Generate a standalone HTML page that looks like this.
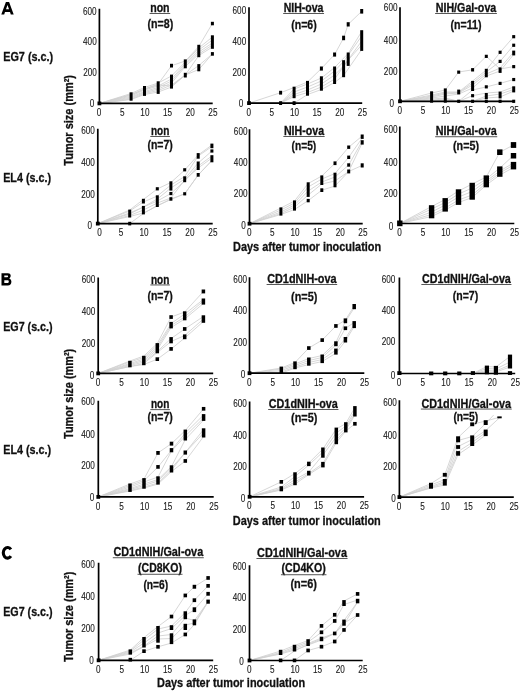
<!DOCTYPE html>
<html><head><meta charset="utf-8"><title>Tumor growth figure</title>
<style>
html,body{margin:0;padding:0;background:#fff;}
body{width:520px;height:692px;overflow:hidden;}
svg{display:block;filter:grayscale(1);}
text{font-family:"Liberation Sans",sans-serif;lengthAdjust:spacingAndGlyphs;}
.t{font-size:10.5px;fill:#1a1a1a;text-anchor:middle;stroke:#1a1a1a;stroke-width:0.12;}
.h{font-size:12.0px;font-weight:bold;fill:#111;text-anchor:middle;stroke:#111;stroke-width:0.3;}
.n{font-size:13.2px;font-weight:bold;fill:#111;text-anchor:middle;stroke:#111;stroke-width:0.3;}
.s{font-size:13px;font-weight:bold;fill:#111;stroke:#111;stroke-width:0.3;}
.Y{font-size:12px;font-weight:bold;fill:#111;stroke:#111;stroke-width:0.3;}
.X{font-size:13.2px;font-weight:bold;fill:#111;stroke:#111;stroke-width:0.3;}
.P{font-size:17px;font-weight:bold;fill:#000;}
</style></head>
<body>
<svg width="520" height="692" viewBox="0 0 520 692">
<rect width="520" height="692" fill="#fff"/>
<path fill-rule="evenodd" d="M1.3,14.6 L5.9,2.1 L9.1,2.1 L13.7,14.6 L10.8,14.6 L10,12 L5,12 L4.2,14.6 Z M6,9.3 L7.5,5.1 L9,9.3 Z"/>
<path fill-rule="evenodd" transform="translate(0 270)" d="M1.5,3.2 H7.8 C10.1,3.2 10.7,4.5 10.7,5.8 C10.7,7 10.1,7.9 9.2,8.5 C10.6,9 11.4,10.2 11.4,11.8 C11.4,13.9 10.1,15.5 7.8,15.5 H1.5 Z M4.3,5.4 H7.3 C7.9,5.4 8.1,5.9 8.1,6.3 C8.1,6.9 7.8,7.3 7.2,7.3 H4.3 Z M4.3,10.3 H7.7 C8.5,10.3 8.8,10.9 8.8,11.6 C8.8,12.5 8.4,13.1 7.7,13.1 H4.3 Z"/>
<path fill="none" stroke="#000" stroke-width="3.1" d="M10.9,549.4 A4.3,5.35 0 1 0 10.9,556.2"/>
<text class="s" x="3.2" y="60.8" lengthAdjust="spacingAndGlyphs" textLength="50">EG7 (s.c.)</text>
<text class="s" x="3.2" y="181.8" lengthAdjust="spacingAndGlyphs" textLength="47.8">EL4 (s.c.)</text>
<text class="s" x="3.2" y="330.8" lengthAdjust="spacingAndGlyphs" textLength="49.4">EG7 (s.c.)</text>
<text class="s" x="3.2" y="454.2" lengthAdjust="spacingAndGlyphs" textLength="48">EL4 (s.c.)</text>
<text class="s" x="3.2" y="616.3" lengthAdjust="spacingAndGlyphs" textLength="49.4">EG7 (s.c.)</text>
<text class="Y" transform="translate(73.4 165.7) rotate(-90)" x="0" y="0" lengthAdjust="spacingAndGlyphs" textLength="90.7">Tumor size (mm²)</text>
<text class="Y" transform="translate(73.2 438.9) rotate(-90)" x="0" y="0" lengthAdjust="spacingAndGlyphs" textLength="90.1">Tumor size (mm²)</text>
<text class="Y" transform="translate(73.4 662) rotate(-90)" x="0" y="0" lengthAdjust="spacingAndGlyphs" textLength="90.4">Tumor size (mm²)</text>
<text class="X" x="233" y="251.3" lengthAdjust="spacingAndGlyphs" textLength="148.2">Days after tumor inoculation</text>
<text class="X" x="232.8" y="525.3" lengthAdjust="spacingAndGlyphs" textLength="148">Days after tumor inoculation</text>
<text class="X" x="157.1" y="687.1" lengthAdjust="spacingAndGlyphs" textLength="148">Days after tumor inoculation</text>
<g>
<polyline points="99.4,103.4 131.1,95 144.5,89 158.2,84 171.5,65.7 185.3,61 198.8,46.5 212.4,23.5" fill="none" stroke="#d0d0d0" stroke-width="0.85"/>
<polyline points="99.4,103.4 131.1,93.5 144.5,87.5 158.2,83 171.5,76 185.3,62 198.8,48 212.4,37" fill="none" stroke="#d0d0d0" stroke-width="0.85"/>
<polyline points="99.4,103.4 131.1,96 144.5,90 158.2,86 171.5,79 185.3,63.5 198.8,50 212.4,40" fill="none" stroke="#d0d0d0" stroke-width="0.85"/>
<polyline points="99.4,103.4 131.1,97 144.5,91.5 158.2,87.5 171.5,81 185.3,65 198.8,52 212.4,43" fill="none" stroke="#d0d0d0" stroke-width="0.85"/>
<polyline points="99.4,103.4 131.1,98 144.5,92.5 158.2,89 171.5,83 185.3,66.5 198.8,54 212.4,45" fill="none" stroke="#d0d0d0" stroke-width="0.85"/>
<polyline points="99.4,103.4 131.1,99 144.5,93.5 158.2,90.5 171.5,85 185.3,75 198.8,55.5 212.4,47" fill="none" stroke="#d0d0d0" stroke-width="0.85"/>
<polyline points="99.4,103.4 131.1,99.5 144.5,94.5 158.2,92 171.5,87 185.3,75 198.8,65.5 212.4,53.9" fill="none" stroke="#d0d0d0" stroke-width="0.85"/>
<polyline points="99.4,103.4 131.1,94.5 144.5,89 158.2,85 171.5,86 185.3,75 198.8,69.5 212.4,53.9" fill="none" stroke="#d0d0d0" stroke-width="0.85"/>
<path d="M99.4 8.7V103.4H212.7" fill="none" stroke="#000" stroke-width="1.7"/>
<rect x="97.5" y="101.5" width="3.8" height="3.8"/>
<rect x="129.6" y="92.3" width="3" height="8.4"/>
<rect x="143" y="86" width="3" height="9.9"/>
<rect x="156.7" y="81.3" width="3" height="12.6"/>
<rect x="170" y="63.8" width="3" height="3.7"/>
<rect x="170" y="74.6" width="3" height="14"/>
<rect x="183.8" y="59.4" width="3" height="8.9"/>
<rect x="183.8" y="72.8" width="3" height="4.7"/>
<rect x="197.3" y="44.8" width="3" height="12.4"/>
<rect x="197.3" y="64.1" width="3" height="7.2"/>
<rect x="210.9" y="21.8" width="3" height="3.5"/>
<rect x="210.9" y="35.3" width="3" height="13.5"/>
<rect x="210.9" y="52.1" width="3" height="3.6"/>
<text class="t" x="99.1" y="116" lengthAdjust="spacingAndGlyphs" textLength="4.55">0</text>
<text class="t" x="122.26" y="116" lengthAdjust="spacingAndGlyphs" textLength="4.55">5</text>
<text class="t" x="144.92" y="116" lengthAdjust="spacingAndGlyphs" textLength="9.11">10</text>
<text class="t" x="167.58" y="116" lengthAdjust="spacingAndGlyphs" textLength="9.11">15</text>
<text class="t" x="190.24" y="116" lengthAdjust="spacingAndGlyphs" textLength="9.11">20</text>
<text class="t" x="212.9" y="116" lengthAdjust="spacingAndGlyphs" textLength="9.11">25</text>
<text class="t" x="89.8" y="14.55" lengthAdjust="spacingAndGlyphs" textLength="13.66">600</text>
<text class="t" x="89.9" y="45.35" lengthAdjust="spacingAndGlyphs" textLength="13.66">400</text>
<text class="t" x="90" y="76.05" lengthAdjust="spacingAndGlyphs" textLength="13.66">200</text>
<text class="t" x="91.9" y="106.65" lengthAdjust="spacingAndGlyphs" textLength="4.55">0</text>
<text class="h" x="159.9" y="11.6" lengthAdjust="spacingAndGlyphs" textLength="19.4">non</text>
<rect x="149.6" y="13.1" width="20.6" height="0.9" fill="#444"/>
<text class="n" x="160.4" y="28.22" lengthAdjust="spacingAndGlyphs" textLength="25.7">(n=8)</text>
</g>
<g>
<polyline points="249,103.1 280.6,92.7 294.1,87.5 307.5,82 321.4,68.5 334.6,54.5 343.6,38 348.2,24.3 361.7,11.3" fill="none" stroke="#d0d0d0" stroke-width="0.85"/>
<polyline points="249,103.1 280.6,103.1 294.1,89 307.5,84 321.4,78 334.6,67.5 348.2,53.5 361.7,31.5" fill="none" stroke="#d0d0d0" stroke-width="0.85"/>
<polyline points="249,103.1 280.6,103.1 294.1,92 307.5,87 321.4,81 334.6,71 343.6,61.5 361.7,36" fill="none" stroke="#d0d0d0" stroke-width="0.85"/>
<polyline points="249,103.1 280.6,103.1 294.1,94.5 307.5,90 321.4,84 334.6,75 343.6,66 361.7,41" fill="none" stroke="#d0d0d0" stroke-width="0.85"/>
<polyline points="249,103.1 280.6,103.1 294.1,96.5 307.5,92.5 321.4,87 334.6,79 348.2,60 361.7,45" fill="none" stroke="#d0d0d0" stroke-width="0.85"/>
<polyline points="249,103.1 280.6,103.1 294.1,103.1 307.5,94.5 321.4,89.5 334.6,82.5 343.6,75.5 361.7,49.5" fill="none" stroke="#d0d0d0" stroke-width="0.85"/>
<path d="M249 7.2V103.1H362.2" fill="none" stroke="#000" stroke-width="1.7"/>
<rect x="247.1" y="101.2" width="3.8" height="3.8"/>
<rect x="279.1" y="90.8" width="3" height="3.8"/>
<rect x="279.1" y="101.2" width="3" height="3.8"/>
<rect x="292.6" y="86.7" width="3" height="11.5"/>
<rect x="292.6" y="101.2" width="3" height="3.8"/>
<rect x="306" y="80.9" width="3" height="14.8"/>
<rect x="319.9" y="66.5" width="3" height="4.1"/>
<rect x="319.9" y="76.3" width="3" height="14.4"/>
<rect x="333.1" y="52.5" width="3" height="4.1"/>
<rect x="333.1" y="66.5" width="3" height="17.5"/>
<rect x="342.1" y="35.7" width="3" height="4.5"/>
<rect x="342.1" y="60.2" width="3" height="17"/>
<rect x="346.7" y="22.2" width="3" height="4.3"/>
<rect x="346.7" y="52.5" width="3" height="13.4"/>
<rect x="360.2" y="9" width="3" height="4.6"/>
<rect x="360.2" y="30.2" width="3" height="20.7"/>
<text class="t" x="248.7" y="115.7" lengthAdjust="spacingAndGlyphs" textLength="4.55">0</text>
<text class="t" x="271.84" y="115.7" lengthAdjust="spacingAndGlyphs" textLength="4.55">5</text>
<text class="t" x="294.48" y="115.7" lengthAdjust="spacingAndGlyphs" textLength="9.11">10</text>
<text class="t" x="317.12" y="115.7" lengthAdjust="spacingAndGlyphs" textLength="9.11">15</text>
<text class="t" x="339.76" y="115.7" lengthAdjust="spacingAndGlyphs" textLength="9.11">20</text>
<text class="t" x="362.4" y="115.7" lengthAdjust="spacingAndGlyphs" textLength="9.11">25</text>
<text class="t" x="239.4" y="14.45" lengthAdjust="spacingAndGlyphs" textLength="13.66">600</text>
<text class="t" x="239.4" y="44.75" lengthAdjust="spacingAndGlyphs" textLength="13.66">400</text>
<text class="t" x="239.4" y="75.95" lengthAdjust="spacingAndGlyphs" textLength="13.66">200</text>
<text class="t" x="241.1" y="106.55" lengthAdjust="spacingAndGlyphs" textLength="4.55">0</text>
<text class="h" x="303.6" y="11.6" lengthAdjust="spacingAndGlyphs" textLength="39.7">NIH-ova</text>
<rect x="283.15" y="13" width="40.9" height="0.9" fill="#444"/>
<text class="n" x="304" y="28.82" lengthAdjust="spacingAndGlyphs" textLength="25.6">(n=6)</text>
</g>
<g>
<polyline points="400,101.3 431.6,93 445.3,90 458.7,72 472.6,69.8 486.3,56.3 500.1,69 513.7,66.6" fill="none" stroke="#d0d0d0" stroke-width="0.85"/>
<polyline points="400,101.3 431.6,95 445.3,92 458.7,92 472.6,81 486.3,70 500.1,52.3 513.7,36.7" fill="none" stroke="#d0d0d0" stroke-width="0.85"/>
<polyline points="400,101.3 431.6,96 445.3,93 458.7,92.5 472.6,83 486.3,72 500.1,61.4 513.7,45.2" fill="none" stroke="#d0d0d0" stroke-width="0.85"/>
<polyline points="400,101.3 431.6,97 445.3,94 458.7,93 472.6,85 486.3,74 500.1,68 513.7,52" fill="none" stroke="#d0d0d0" stroke-width="0.85"/>
<polyline points="400,101.3 431.6,98 445.3,96 458.7,94 472.6,88 486.3,76 500.1,71 513.7,54.5" fill="none" stroke="#d0d0d0" stroke-width="0.85"/>
<polyline points="400,101.3 431.6,99 445.3,98 458.7,101.3 472.6,90 486.3,86.9 500.1,83.4 513.7,79.5" fill="none" stroke="#d0d0d0" stroke-width="0.85"/>
<polyline points="400,101.3 431.6,100 445.3,99 458.7,101.3 472.6,95.7 486.3,93 500.1,92 513.7,87" fill="none" stroke="#d0d0d0" stroke-width="0.85"/>
<polyline points="400,101.3 431.6,101.3 445.3,100 458.7,101.3 472.6,101.3 486.3,96 500.1,94 513.7,89.5" fill="none" stroke="#d0d0d0" stroke-width="0.85"/>
<polyline points="400,101.3 431.6,101.3 445.3,101.3 458.7,101.3 472.6,101.3 486.3,98 500.1,97 513.7,91" fill="none" stroke="#d0d0d0" stroke-width="0.85"/>
<polyline points="400,101.3 431.6,101.3 445.3,101.3 458.7,101.3 472.6,101.3 486.3,101.3 500.1,101.3 513.7,101.3" fill="none" stroke="#d0d0d0" stroke-width="0.85"/>
<polyline points="400,101.3 431.6,101.3 445.3,101.3 458.7,101.3 472.6,101.3 486.3,101.3 500.1,101.3 513.7,101.3" fill="none" stroke="#d0d0d0" stroke-width="0.85"/>
<path d="M400 7.3V101.3H514" fill="none" stroke="#000" stroke-width="1.7"/>
<rect x="398.1" y="99.4" width="3.8" height="3.8"/>
<rect x="430.1" y="91.3" width="3" height="11.4"/>
<rect x="443.8" y="88.4" width="3" height="14.3"/>
<rect x="457.2" y="70.55" width="3" height="3.2"/>
<rect x="457.2" y="89.6" width="3" height="4.8"/>
<rect x="457.2" y="99.7" width="3" height="3.2"/>
<rect x="471.1" y="68.1" width="3" height="3.4"/>
<rect x="471.1" y="80.9" width="3" height="10.1"/>
<rect x="471.1" y="94.1" width="3" height="3.2"/>
<rect x="471.1" y="99.7" width="3" height="3.2"/>
<rect x="484.8" y="54.75" width="3" height="3.2"/>
<rect x="484.8" y="68.8" width="3" height="8.5"/>
<rect x="484.8" y="85.25" width="3" height="3.2"/>
<rect x="484.8" y="93" width="3" height="6.1"/>
<rect x="484.8" y="99.7" width="3" height="3.2"/>
<rect x="498.6" y="50.7" width="3" height="3.2"/>
<rect x="498.6" y="59.8" width="3" height="3.2"/>
<rect x="498.6" y="67.4" width="3" height="5.5"/>
<rect x="498.6" y="81.8" width="3" height="3.2"/>
<rect x="498.6" y="91.6" width="3" height="6.8"/>
<rect x="498.6" y="99.7" width="3" height="3.2"/>
<rect x="512.2" y="35.1" width="3" height="3.2"/>
<rect x="512.2" y="43.65" width="3" height="3.2"/>
<rect x="512.2" y="50.6" width="3" height="4.8"/>
<rect x="512.2" y="65.05" width="3" height="3.2"/>
<rect x="512.2" y="77.95" width="3" height="3.2"/>
<rect x="512.2" y="86.3" width="3" height="6.1"/>
<rect x="512.2" y="99.7" width="3" height="3.2"/>
<text class="t" x="399.7" y="113.9" lengthAdjust="spacingAndGlyphs" textLength="4.55">0</text>
<text class="t" x="423" y="113.9" lengthAdjust="spacingAndGlyphs" textLength="4.55">5</text>
<text class="t" x="445.8" y="113.9" lengthAdjust="spacingAndGlyphs" textLength="9.11">10</text>
<text class="t" x="468.6" y="113.9" lengthAdjust="spacingAndGlyphs" textLength="9.11">15</text>
<text class="t" x="491.4" y="113.9" lengthAdjust="spacingAndGlyphs" textLength="9.11">20</text>
<text class="t" x="514.2" y="113.9" lengthAdjust="spacingAndGlyphs" textLength="9.11">25</text>
<text class="t" x="390.7" y="11.45" lengthAdjust="spacingAndGlyphs" textLength="13.66">600</text>
<text class="t" x="390.7" y="43.95" lengthAdjust="spacingAndGlyphs" textLength="13.66">400</text>
<text class="t" x="390.7" y="75.35" lengthAdjust="spacingAndGlyphs" textLength="13.66">200</text>
<text class="t" x="391.8" y="107.35" lengthAdjust="spacingAndGlyphs" textLength="4.55">0</text>
<text class="h" x="466" y="11.6" lengthAdjust="spacingAndGlyphs" textLength="60.6">NIH/Gal-ova</text>
<rect x="435.1" y="13" width="61.8" height="0.9" fill="#444"/>
<text class="n" x="466" y="28.82" lengthAdjust="spacingAndGlyphs" textLength="31">(n=11)</text>
</g>
<g>
<polyline points="97.8,223.6 129.7,210 143.4,199.5 157.3,188.9 170.9,182.5 184.7,170 198.2,155 211.9,145" fill="none" stroke="#d0d0d0" stroke-width="0.85"/>
<polyline points="97.8,223.6 129.7,211 143.4,202 157.3,196 170.9,185 184.7,176.5 198.2,156 211.9,146.5" fill="none" stroke="#d0d0d0" stroke-width="0.85"/>
<polyline points="97.8,223.6 129.7,213 143.4,207 157.3,199 170.9,188 184.7,179 198.2,163 211.9,151" fill="none" stroke="#d0d0d0" stroke-width="0.85"/>
<polyline points="97.8,223.6 129.7,214 143.4,207 157.3,201 170.9,193.5 184.7,181 198.2,166 211.9,156" fill="none" stroke="#d0d0d0" stroke-width="0.85"/>
<polyline points="97.8,223.6 129.7,215.5 143.4,210 157.3,203 170.9,198 184.7,180 198.2,168 211.9,158" fill="none" stroke="#d0d0d0" stroke-width="0.85"/>
<polyline points="97.8,223.6 129.7,216.5 143.4,213 157.3,206 170.9,199 184.7,193.8 198.2,175 211.9,160.5" fill="none" stroke="#d0d0d0" stroke-width="0.85"/>
<polyline points="97.8,223.6 129.7,223.6 143.4,213.5 157.3,205.5 170.9,199.5 184.7,193.8 198.2,175 211.9,160.5" fill="none" stroke="#d0d0d0" stroke-width="0.85"/>
<path d="M97.8 128.8V223.6H212.7" fill="none" stroke="#000" stroke-width="1.7"/>
<rect x="95.9" y="221.7" width="3.8" height="3.8"/>
<rect x="128.2" y="209.6" width="3" height="7.9"/>
<rect x="128.2" y="221.8" width="3" height="3.6"/>
<rect x="141.9" y="198.8" width="3" height="4.7"/>
<rect x="141.9" y="205.9" width="3" height="8.5"/>
<rect x="155.8" y="187.2" width="3" height="3.2"/>
<rect x="155.8" y="195.3" width="3" height="11.7"/>
<rect x="169.4" y="181.3" width="3" height="9.3"/>
<rect x="169.4" y="191.95" width="3" height="3.2"/>
<rect x="169.4" y="197.2" width="3" height="3.5"/>
<rect x="183.2" y="168.2" width="3" height="3.2"/>
<rect x="183.2" y="176.3" width="3" height="5.9"/>
<rect x="183.2" y="192.2" width="3" height="3.2"/>
<rect x="196.7" y="153.1" width="3" height="5.6"/>
<rect x="196.7" y="161.5" width="3" height="8.5"/>
<rect x="196.7" y="173" width="3" height="3.7"/>
<rect x="210.4" y="143.6" width="3" height="4.6"/>
<rect x="210.4" y="149.4" width="3" height="3.2"/>
<rect x="210.4" y="155.2" width="3" height="7.1"/>
<text class="t" x="99.6" y="236.2" lengthAdjust="spacingAndGlyphs" textLength="4.55">0</text>
<text class="t" x="120.98" y="236.2" lengthAdjust="spacingAndGlyphs" textLength="4.55">5</text>
<text class="t" x="143.96" y="236.2" lengthAdjust="spacingAndGlyphs" textLength="9.11">10</text>
<text class="t" x="166.94" y="236.2" lengthAdjust="spacingAndGlyphs" textLength="9.11">15</text>
<text class="t" x="189.92" y="236.2" lengthAdjust="spacingAndGlyphs" textLength="9.11">20</text>
<text class="t" x="212.9" y="236.2" lengthAdjust="spacingAndGlyphs" textLength="9.11">25</text>
<text class="t" x="88.1" y="134.45" lengthAdjust="spacingAndGlyphs" textLength="13.66">600</text>
<text class="t" x="88.1" y="166.35" lengthAdjust="spacingAndGlyphs" textLength="13.66">400</text>
<text class="t" x="88.1" y="197.55" lengthAdjust="spacingAndGlyphs" textLength="13.66">200</text>
<text class="t" x="89.8" y="229.25" lengthAdjust="spacingAndGlyphs" textLength="4.55">0</text>
<text class="h" x="160.1" y="134.8" lengthAdjust="spacingAndGlyphs" textLength="18.4">non</text>
<rect x="150.3" y="136" width="19.6" height="0.9" fill="#444"/>
<text class="n" x="160.1" y="149.47" lengthAdjust="spacingAndGlyphs" textLength="25.4">(n=7)</text>
</g>
<g>
<polyline points="249.5,223.7 280.9,208 294.5,201 308.2,183.5 321.8,176 335,163.3 348.7,147.2 362.2,136" fill="none" stroke="#d0d0d0" stroke-width="0.85"/>
<polyline points="249.5,223.7 280.9,210 294.5,203 308.2,187 321.8,179 335,173.5 348.7,157.3 362.2,138" fill="none" stroke="#d0d0d0" stroke-width="0.85"/>
<polyline points="249.5,223.7 280.9,212 294.5,205 308.2,191 321.8,182 335,177 348.7,165 362.2,141" fill="none" stroke="#d0d0d0" stroke-width="0.85"/>
<polyline points="249.5,223.7 280.9,213.5 294.5,207 308.2,195 321.8,184 335,181 348.7,171.5 362.2,143" fill="none" stroke="#d0d0d0" stroke-width="0.85"/>
<polyline points="249.5,223.7 280.9,214.5 294.5,209.5 308.2,200.6 321.8,190.2 335,186 348.7,171.5 362.2,165.4" fill="none" stroke="#d0d0d0" stroke-width="0.85"/>
<path d="M249.5 129.2V223.7H362.7" fill="none" stroke="#000" stroke-width="1.7"/>
<rect x="247.6" y="221.8" width="3.8" height="3.8"/>
<rect x="279.4" y="207.4" width="3" height="8.2"/>
<rect x="293" y="200.4" width="3" height="10.2"/>
<rect x="306.7" y="182.3" width="3" height="14.6"/>
<rect x="306.7" y="198.9" width="3" height="3.4"/>
<rect x="320.3" y="175.4" width="3" height="9.6"/>
<rect x="320.3" y="188.3" width="3" height="3.7"/>
<rect x="333.5" y="161.4" width="3" height="3.7"/>
<rect x="333.5" y="172.7" width="3" height="14.6"/>
<rect x="347.2" y="145.5" width="3" height="3.4"/>
<rect x="347.2" y="155.6" width="3" height="3.4"/>
<rect x="347.2" y="163.3" width="3" height="3.4"/>
<rect x="347.2" y="169.5" width="3" height="3.9"/>
<rect x="360.7" y="134.5" width="3" height="4.4"/>
<rect x="360.7" y="140.2" width="3" height="4.4"/>
<rect x="360.7" y="163.3" width="3" height="4.2"/>
<text class="t" x="249.2" y="236.3" lengthAdjust="spacingAndGlyphs" textLength="4.55">0</text>
<text class="t" x="272.34" y="236.3" lengthAdjust="spacingAndGlyphs" textLength="4.55">5</text>
<text class="t" x="294.98" y="236.3" lengthAdjust="spacingAndGlyphs" textLength="9.11">10</text>
<text class="t" x="317.62" y="236.3" lengthAdjust="spacingAndGlyphs" textLength="9.11">15</text>
<text class="t" x="340.26" y="236.3" lengthAdjust="spacingAndGlyphs" textLength="9.11">20</text>
<text class="t" x="362.9" y="236.3" lengthAdjust="spacingAndGlyphs" textLength="9.11">25</text>
<text class="t" x="240.7" y="135.25" lengthAdjust="spacingAndGlyphs" textLength="13.66">600</text>
<text class="t" x="240.7" y="166.35" lengthAdjust="spacingAndGlyphs" textLength="13.66">400</text>
<text class="t" x="240.7" y="197.35" lengthAdjust="spacingAndGlyphs" textLength="13.66">200</text>
<text class="t" x="243.5" y="229.05" lengthAdjust="spacingAndGlyphs" textLength="4.55">0</text>
<text class="h" x="304" y="134.8" lengthAdjust="spacingAndGlyphs" textLength="40.1">NIH-ova</text>
<rect x="283.35" y="136" width="41.3" height="0.9" fill="#444"/>
<text class="n" x="303.9" y="149.77" lengthAdjust="spacingAndGlyphs" textLength="24.7">(n=5)</text>
</g>
<g>
<polyline points="399.8,223.5 431.6,206.5 445.2,199.5 458.5,191 472.2,184 486.3,177 499.8,152.2 513.5,145" fill="none" stroke="#d0d0d0" stroke-width="0.85"/>
<polyline points="399.8,223.5 431.6,209 445.2,202.5 458.5,194 472.2,188 486.3,179 499.8,168 513.5,155.5" fill="none" stroke="#d0d0d0" stroke-width="0.85"/>
<polyline points="399.8,223.5 431.6,212 445.2,205 458.5,197 472.2,191.5 486.3,181 499.8,171 513.5,163" fill="none" stroke="#d0d0d0" stroke-width="0.85"/>
<polyline points="399.8,223.5 431.6,214.5 445.2,208 458.5,200 472.2,195 486.3,183 499.8,173 513.5,165" fill="none" stroke="#d0d0d0" stroke-width="0.85"/>
<polyline points="399.8,223.5 431.6,216.5 445.2,210 458.5,202.5 472.2,197.5 486.3,185 499.8,175 513.5,167.5" fill="none" stroke="#d0d0d0" stroke-width="0.85"/>
<path d="M399.8 126.4V223.5H514.3" fill="none" stroke="#000" stroke-width="1.7"/>
<rect x="397.1" y="220.5" width="5.4" height="5.7"/>
<rect x="428.9" y="205.2" width="5.4" height="13.1"/>
<rect x="442.5" y="198.1" width="5.4" height="13.5"/>
<rect x="455.8" y="189.3" width="5.4" height="15.6"/>
<rect x="469.5" y="182.8" width="5.4" height="16.9"/>
<rect x="483.6" y="175.4" width="5.4" height="11.9"/>
<rect x="497.1" y="149.4" width="5.4" height="5.6"/>
<rect x="497.1" y="166.4" width="5.4" height="10.4"/>
<rect x="510.8" y="142.1" width="5.4" height="5.8"/>
<rect x="510.8" y="153" width="5.4" height="5.5"/>
<rect x="510.8" y="161.9" width="5.4" height="7.5"/>
<text class="t" x="399.5" y="236.1" lengthAdjust="spacingAndGlyphs" textLength="4.55">0</text>
<text class="t" x="422.9" y="236.1" lengthAdjust="spacingAndGlyphs" textLength="4.55">5</text>
<text class="t" x="445.8" y="236.1" lengthAdjust="spacingAndGlyphs" textLength="9.11">10</text>
<text class="t" x="468.7" y="236.1" lengthAdjust="spacingAndGlyphs" textLength="9.11">15</text>
<text class="t" x="491.6" y="236.1" lengthAdjust="spacingAndGlyphs" textLength="9.11">20</text>
<text class="t" x="514.5" y="236.1" lengthAdjust="spacingAndGlyphs" textLength="9.11">25</text>
<text class="t" x="390.7" y="132.55" lengthAdjust="spacingAndGlyphs" textLength="13.66">600</text>
<text class="t" x="390.7" y="165.55" lengthAdjust="spacingAndGlyphs" textLength="13.66">400</text>
<text class="t" x="390.7" y="197.35" lengthAdjust="spacingAndGlyphs" textLength="13.66">200</text>
<text class="t" x="391.1" y="229.85" lengthAdjust="spacingAndGlyphs" textLength="4.55">0</text>
<text class="h" x="466.2" y="134.8" lengthAdjust="spacingAndGlyphs" textLength="60.9">NIH/Gal-ova</text>
<rect x="435.15" y="136.3" width="62.1" height="0.9" fill="#444"/>
<text class="n" x="466" y="149.87" lengthAdjust="spacingAndGlyphs" textLength="25.9">(n=5)</text>
</g>
<g>
<polyline points="98.2,373.4 129.9,361 143.8,356 157.3,343.5 171.1,317 184.7,312 203.4,291.5" fill="none" stroke="#d0d0d0" stroke-width="0.85"/>
<polyline points="98.2,373.4 129.9,362 143.8,357.5 157.3,345.5 171.1,323.5 184.7,314 203.4,299.5" fill="none" stroke="#d0d0d0" stroke-width="0.85"/>
<polyline points="98.2,373.4 129.9,363.5 143.8,359 157.3,347.5 171.1,325.5 184.7,317 203.4,301" fill="none" stroke="#d0d0d0" stroke-width="0.85"/>
<polyline points="98.2,373.4 129.9,364.5 143.8,360.5 157.3,349.5 171.1,327.5 184.7,319 203.4,303.5" fill="none" stroke="#d0d0d0" stroke-width="0.85"/>
<polyline points="98.2,373.4 129.9,365.5 143.8,362 157.3,351.5 171.1,338.5 184.7,329 203.4,316.5" fill="none" stroke="#d0d0d0" stroke-width="0.85"/>
<polyline points="98.2,373.4 129.9,366.5 143.8,363.5 157.3,352.5 171.1,341.5 184.7,335.5 203.4,319" fill="none" stroke="#d0d0d0" stroke-width="0.85"/>
<polyline points="98.2,373.4 129.9,366.5 143.8,364.5 157.3,359.2 171.1,349 184.7,338 203.4,321.5" fill="none" stroke="#d0d0d0" stroke-width="0.85"/>
<path d="M98.2 277.5V373.4H213.2" fill="none" stroke="#000" stroke-width="1.7"/>
<rect x="96.3" y="371.5" width="3.8" height="3.8"/>
<rect x="128.15" y="360.8" width="3.5" height="6.5"/>
<rect x="142.05" y="355.8" width="3.5" height="9.4"/>
<rect x="155.55" y="343.1" width="3.5" height="10.2"/>
<rect x="155.55" y="357.3" width="3.5" height="3.7"/>
<rect x="169.35" y="315.2" width="3.5" height="3.7"/>
<rect x="169.35" y="321.9" width="3.5" height="6.5"/>
<rect x="169.35" y="337.1" width="3.5" height="6.2"/>
<rect x="169.35" y="347.05" width="3.5" height="3.7"/>
<rect x="182.95" y="311.3" width="3.5" height="9"/>
<rect x="182.95" y="327.1" width="3.5" height="3.7"/>
<rect x="182.95" y="334.4" width="3.5" height="4.8"/>
<rect x="201.65" y="289.5" width="3.5" height="3.9"/>
<rect x="201.65" y="298.5" width="3.5" height="6.1"/>
<rect x="201.65" y="315.3" width="3.5" height="7.5"/>
<text class="t" x="97.9" y="386" lengthAdjust="spacingAndGlyphs" textLength="4.55">0</text>
<text class="t" x="121.4" y="386" lengthAdjust="spacingAndGlyphs" textLength="4.55">5</text>
<text class="t" x="144.4" y="386" lengthAdjust="spacingAndGlyphs" textLength="9.11">10</text>
<text class="t" x="167.4" y="386" lengthAdjust="spacingAndGlyphs" textLength="9.11">15</text>
<text class="t" x="190.4" y="386" lengthAdjust="spacingAndGlyphs" textLength="9.11">20</text>
<text class="t" x="213.4" y="386" lengthAdjust="spacingAndGlyphs" textLength="9.11">25</text>
<text class="t" x="88.6" y="283.15" lengthAdjust="spacingAndGlyphs" textLength="13.66">600</text>
<text class="t" x="88.6" y="315.15" lengthAdjust="spacingAndGlyphs" textLength="13.66">400</text>
<text class="t" x="88.6" y="346.95" lengthAdjust="spacingAndGlyphs" textLength="13.66">200</text>
<text class="t" x="91.9" y="378.85" lengthAdjust="spacingAndGlyphs" textLength="4.55">0</text>
<text class="h" x="160.1" y="283.6" lengthAdjust="spacingAndGlyphs" textLength="18.4">non</text>
<rect x="150.3" y="284.5" width="19.6" height="0.9" fill="#444"/>
<text class="n" x="160.1" y="300.07" lengthAdjust="spacingAndGlyphs" textLength="25.4">(n=7)</text>
</g>
<g>
<polyline points="249.5,373.2 281.3,368 295,362.5 308.8,348 322.2,340.1 335.9,326 345.4,320 354.2,306" fill="none" stroke="#d0d0d0" stroke-width="0.85"/>
<polyline points="249.5,373.2 281.3,369 295,364 308.8,358.5 322.2,355.5 335.9,342.5 345.4,321.5 354.2,308" fill="none" stroke="#d0d0d0" stroke-width="0.85"/>
<polyline points="249.5,373.2 281.3,370.5 295,365.5 308.8,360.5 322.2,357.5 335.9,345 345.4,328.3 354.2,322.5" fill="none" stroke="#d0d0d0" stroke-width="0.85"/>
<polyline points="249.5,373.2 281.3,372 295,367 308.8,362.5 322.2,359.5 335.9,350 345.4,338.5 354.2,324.5" fill="none" stroke="#d0d0d0" stroke-width="0.85"/>
<polyline points="249.5,373.2 281.3,373.2 295,368 308.8,364.5 322.2,361.5 335.9,353.2 345.4,341 354.2,326.5" fill="none" stroke="#d0d0d0" stroke-width="0.85"/>
<path d="M249.5 277.3V373.2H364.3" fill="none" stroke="#000" stroke-width="1.7"/>
<rect x="247.6" y="371.3" width="3.8" height="3.8"/>
<rect x="279.55" y="366.6" width="3.5" height="7.4"/>
<rect x="293.25" y="361.4" width="3.5" height="7.8"/>
<rect x="307.05" y="346.2" width="3.5" height="3.7"/>
<rect x="307.05" y="357.5" width="3.5" height="8.2"/>
<rect x="320.45" y="338.25" width="3.5" height="3.7"/>
<rect x="320.45" y="354.5" width="3.5" height="8.6"/>
<rect x="334.15" y="324.1" width="3.5" height="3.7"/>
<rect x="334.15" y="341.3" width="3.5" height="4.9"/>
<rect x="334.15" y="348.6" width="3.5" height="6"/>
<rect x="343.65" y="318.4" width="3.5" height="4.8"/>
<rect x="343.65" y="326.4" width="3.5" height="3.7"/>
<rect x="343.65" y="337" width="3.5" height="5.5"/>
<rect x="352.45" y="304" width="3.5" height="5.2"/>
<rect x="352.45" y="321.1" width="3.5" height="7"/>
<text class="t" x="249.2" y="385.8" lengthAdjust="spacingAndGlyphs" textLength="4.55">0</text>
<text class="t" x="272.66" y="385.8" lengthAdjust="spacingAndGlyphs" textLength="4.55">5</text>
<text class="t" x="295.62" y="385.8" lengthAdjust="spacingAndGlyphs" textLength="9.11">10</text>
<text class="t" x="318.58" y="385.8" lengthAdjust="spacingAndGlyphs" textLength="9.11">15</text>
<text class="t" x="341.54" y="385.8" lengthAdjust="spacingAndGlyphs" textLength="9.11">20</text>
<text class="t" x="364.5" y="385.8" lengthAdjust="spacingAndGlyphs" textLength="9.11">25</text>
<text class="t" x="240.2" y="282.55" lengthAdjust="spacingAndGlyphs" textLength="13.66">600</text>
<text class="t" x="240.2" y="313.75" lengthAdjust="spacingAndGlyphs" textLength="13.66">400</text>
<text class="t" x="240.2" y="346.05" lengthAdjust="spacingAndGlyphs" textLength="13.66">200</text>
<text class="t" x="243.1" y="377.95" lengthAdjust="spacingAndGlyphs" textLength="4.55">0</text>
<text class="h" x="301.9" y="282.5" lengthAdjust="spacingAndGlyphs" textLength="69.4">CD1dNIH-ova</text>
<rect x="266.6" y="284" width="70.6" height="0.9" fill="#444"/>
<text class="n" x="304.2" y="300.62" lengthAdjust="spacingAndGlyphs" textLength="26.3">(n=5)</text>
</g>
<g>
<polyline points="399.4,373.5 431.2,373.5 445.2,373.5 459.3,373.5 472.9,373.5 486.9,366.5 495.9,367 510,356.4" fill="none" stroke="#d0d0d0" stroke-width="0.85"/>
<polyline points="399.4,373.5 431.2,373.5 445.2,373.5 459.3,373.5 472.9,373.5 486.9,368.5 495.9,369 510,362" fill="none" stroke="#d0d0d0" stroke-width="0.85"/>
<polyline points="399.4,373.5 431.2,373.5 445.2,373.5 459.3,373.5 472.9,373.5 486.9,370.5 495.9,371 510,365" fill="none" stroke="#d0d0d0" stroke-width="0.85"/>
<polyline points="399.4,373.5 431.2,373.5 445.2,373.5 459.3,373.5 472.9,373.5 486.9,372 495.9,372 510,367" fill="none" stroke="#d0d0d0" stroke-width="0.85"/>
<polyline points="399.4,373.5 431.2,373.5 445.2,373.5 459.3,373.5 472.9,373.5 486.9,373.5 495.9,373.5 510,373.5" fill="none" stroke="#d0d0d0" stroke-width="0.85"/>
<path d="M399.4 277.5V373.5H515.2" fill="none" stroke="#000" stroke-width="1.7"/>
<rect x="397.3" y="371.2" width="4.2" height="3.8"/>
<rect x="429.1" y="371.5" width="4.2" height="3.8"/>
<rect x="443.1" y="371.5" width="4.2" height="3.8"/>
<rect x="457.2" y="371.5" width="4.2" height="3.8"/>
<rect x="470.8" y="371.15" width="4.2" height="3.8"/>
<rect x="484.8" y="365.6" width="4.2" height="8.7"/>
<rect x="493.8" y="365.9" width="4.2" height="8.8"/>
<rect x="507.9" y="354.6" width="4.2" height="13.9"/>
<rect x="507.9" y="371.15" width="4.2" height="3.8"/>
<text class="t" x="399.1" y="386.1" lengthAdjust="spacingAndGlyphs" textLength="4.55">0</text>
<text class="t" x="422.76" y="386.1" lengthAdjust="spacingAndGlyphs" textLength="4.55">5</text>
<text class="t" x="445.92" y="386.1" lengthAdjust="spacingAndGlyphs" textLength="9.11">10</text>
<text class="t" x="469.08" y="386.1" lengthAdjust="spacingAndGlyphs" textLength="9.11">15</text>
<text class="t" x="492.24" y="386.1" lengthAdjust="spacingAndGlyphs" textLength="9.11">20</text>
<text class="t" x="515.4" y="386.1" lengthAdjust="spacingAndGlyphs" textLength="9.11">25</text>
<text class="t" x="388.6" y="282.55" lengthAdjust="spacingAndGlyphs" textLength="13.66">600</text>
<text class="t" x="388.6" y="313.75" lengthAdjust="spacingAndGlyphs" textLength="13.66">400</text>
<text class="t" x="388.6" y="345.25" lengthAdjust="spacingAndGlyphs" textLength="13.66">200</text>
<text class="t" x="392.9" y="378.55" lengthAdjust="spacingAndGlyphs" textLength="4.55">0</text>
<text class="h" x="466.4" y="282.9" lengthAdjust="spacingAndGlyphs" textLength="88.9">CD1dNIH/Gal-ova</text>
<rect x="421.35" y="284" width="90.1" height="0.9" fill="#444"/>
<text class="n" x="465.5" y="300.42" lengthAdjust="spacingAndGlyphs" textLength="25.4">(n=7)</text>
</g>
<g>
<polyline points="98.3,496.9 130,484 144,479 158,452.9 171.5,443.6 185.3,430.5 203.6,408.8" fill="none" stroke="#d0d0d0" stroke-width="0.85"/>
<polyline points="98.3,496.9 130,485.5 144,480.5 158,467 171.5,450.2 185.3,433 203.6,415" fill="none" stroke="#d0d0d0" stroke-width="0.85"/>
<polyline points="98.3,496.9 130,487 144,482 158,477 171.5,451 185.3,436 203.6,418" fill="none" stroke="#d0d0d0" stroke-width="0.85"/>
<polyline points="98.3,496.9 130,488.5 144,484 158,479.5 171.5,466.5 185.3,439.5 203.6,420" fill="none" stroke="#d0d0d0" stroke-width="0.85"/>
<polyline points="98.3,496.9 130,489.5 144,485.5 158,481 171.5,468 185.3,452.5 203.6,429.5" fill="none" stroke="#d0d0d0" stroke-width="0.85"/>
<polyline points="98.3,496.9 130,490.5 144,487 158,483 171.5,470 185.3,452.5 203.6,433" fill="none" stroke="#d0d0d0" stroke-width="0.85"/>
<polyline points="98.3,496.9 130,491 144,488 158,484 171.5,471.5 185.3,461 203.6,436.5" fill="none" stroke="#d0d0d0" stroke-width="0.85"/>
<path d="M98.3 400.8V496.9H213.7" fill="none" stroke="#000" stroke-width="1.7"/>
<rect x="96.4" y="495" width="3.8" height="3.8"/>
<rect x="128.25" y="483.5" width="3.5" height="8.4"/>
<rect x="142.25" y="478.1" width="3.5" height="10.6"/>
<rect x="156.25" y="451" width="3.5" height="3.8"/>
<rect x="156.25" y="465.05" width="3.5" height="3.7"/>
<rect x="156.25" y="476.3" width="3.5" height="8.3"/>
<rect x="169.75" y="441.7" width="3.5" height="3.9"/>
<rect x="169.75" y="448.1" width="3.5" height="4.2"/>
<rect x="169.75" y="465.3" width="3.5" height="7.2"/>
<rect x="183.55" y="429.6" width="3.5" height="10.9"/>
<rect x="183.55" y="450.5" width="3.5" height="4.1"/>
<rect x="183.55" y="459.1" width="3.5" height="3.7"/>
<rect x="201.85" y="406.95" width="3.5" height="3.7"/>
<rect x="201.85" y="414.1" width="3.5" height="6.8"/>
<rect x="201.85" y="428.3" width="3.5" height="9.2"/>
<text class="t" x="98" y="509.5" lengthAdjust="spacingAndGlyphs" textLength="4.55">0</text>
<text class="t" x="121.58" y="509.5" lengthAdjust="spacingAndGlyphs" textLength="4.55">5</text>
<text class="t" x="144.66" y="509.5" lengthAdjust="spacingAndGlyphs" textLength="9.11">10</text>
<text class="t" x="167.74" y="509.5" lengthAdjust="spacingAndGlyphs" textLength="9.11">15</text>
<text class="t" x="190.82" y="509.5" lengthAdjust="spacingAndGlyphs" textLength="9.11">20</text>
<text class="t" x="213.9" y="509.5" lengthAdjust="spacingAndGlyphs" textLength="9.11">25</text>
<text class="t" x="88.1" y="405.45" lengthAdjust="spacingAndGlyphs" textLength="13.66">600</text>
<text class="t" x="88.1" y="437.75" lengthAdjust="spacingAndGlyphs" textLength="13.66">400</text>
<text class="t" x="88.1" y="469.35" lengthAdjust="spacingAndGlyphs" textLength="13.66">200</text>
<text class="t" x="91.9" y="501.25" lengthAdjust="spacingAndGlyphs" textLength="4.55">0</text>
<text class="h" x="160.1" y="408.1" lengthAdjust="spacingAndGlyphs" textLength="18.4">non</text>
<rect x="150.3" y="409.2" width="19.6" height="0.9" fill="#444"/>
<text class="n" x="160.1" y="421.47" lengthAdjust="spacingAndGlyphs" textLength="25.4">(n=7)</text>
</g>
<g>
<polyline points="249.6,496.8 281.3,481.8 295,473.5 308.8,463 322.9,449 336.3,429 345.8,423.5 354.9,407.5" fill="none" stroke="#d0d0d0" stroke-width="0.85"/>
<polyline points="249.6,496.8 281.3,487 295,476.5 308.8,465 322.9,452 336.3,433 345.8,426 354.9,411" fill="none" stroke="#d0d0d0" stroke-width="0.85"/>
<polyline points="249.6,496.8 281.3,488.5 295,479.5 308.8,472 322.9,455 336.3,437 345.8,428 354.9,413.5" fill="none" stroke="#d0d0d0" stroke-width="0.85"/>
<polyline points="249.6,496.8 281.3,489.5 295,482 308.8,473.5 322.9,463.5 336.3,440 345.8,430 354.9,415" fill="none" stroke="#d0d0d0" stroke-width="0.85"/>
<polyline points="249.6,496.8 281.3,490 295,484 308.8,474.5 322.9,465.5 336.3,442.5 345.8,431 354.9,423.8" fill="none" stroke="#d0d0d0" stroke-width="0.85"/>
<path d="M249.6 401.6V496.8H364.1" fill="none" stroke="#000" stroke-width="1.7"/>
<rect x="247.7" y="494.9" width="3.8" height="3.8"/>
<rect x="279.55" y="480" width="3.5" height="3.7"/>
<rect x="279.55" y="486.2" width="3.5" height="5.1"/>
<rect x="293.25" y="472.3" width="3.5" height="12.9"/>
<rect x="307.05" y="461.7" width="3.5" height="4.4"/>
<rect x="307.05" y="470.8" width="3.5" height="4.7"/>
<rect x="321.15" y="447.5" width="3.5" height="10.2"/>
<rect x="321.15" y="461.9" width="3.5" height="5.5"/>
<rect x="334.55" y="427.6" width="3.5" height="16.6"/>
<rect x="344.05" y="422.2" width="3.5" height="10.2"/>
<rect x="353.15" y="406.1" width="3.5" height="10.4"/>
<rect x="353.15" y="421.95" width="3.5" height="3.7"/>
<text class="t" x="249.3" y="509.4" lengthAdjust="spacingAndGlyphs" textLength="4.55">0</text>
<text class="t" x="272.7" y="509.4" lengthAdjust="spacingAndGlyphs" textLength="4.55">5</text>
<text class="t" x="295.6" y="509.4" lengthAdjust="spacingAndGlyphs" textLength="9.11">10</text>
<text class="t" x="318.5" y="509.4" lengthAdjust="spacingAndGlyphs" textLength="9.11">15</text>
<text class="t" x="341.4" y="509.4" lengthAdjust="spacingAndGlyphs" textLength="9.11">20</text>
<text class="t" x="364.3" y="509.4" lengthAdjust="spacingAndGlyphs" textLength="9.11">25</text>
<text class="t" x="240" y="407.05" lengthAdjust="spacingAndGlyphs" textLength="13.66">600</text>
<text class="t" x="240" y="439.25" lengthAdjust="spacingAndGlyphs" textLength="13.66">400</text>
<text class="t" x="240" y="469.85" lengthAdjust="spacingAndGlyphs" textLength="13.66">200</text>
<text class="t" x="243.1" y="501.75" lengthAdjust="spacingAndGlyphs" textLength="4.55">0</text>
<text class="h" x="303.3" y="407.5" lengthAdjust="spacingAndGlyphs" textLength="69.1">CD1dNIH-ova</text>
<rect x="268.15" y="409" width="70.3" height="0.9" fill="#444"/>
<text class="n" x="304.2" y="422.02" lengthAdjust="spacingAndGlyphs" textLength="26.3">(n=5)</text>
</g>
<g>
<polyline points="399.4,497.1 431,483.5 444.8,474.8 458.1,437.5 472.2,424.3 485.7,421 499.5,417.3" fill="none" stroke="#d0d0d0" stroke-width="0.85"/>
<polyline points="399.4,497.1 431,485 444.8,479.5 458.1,440.5 472.2,436.5 485.7,423.5 493.67,415" fill="none" stroke="#d0d0d0" stroke-width="0.85"/>
<polyline points="399.4,497.1 431,486.5 444.8,481.5 458.1,446.5 472.2,439.5 485.7,430.5 499.5,417.8" fill="none" stroke="#d0d0d0" stroke-width="0.85"/>
<polyline points="399.4,497.1 431,487.5 444.8,483 458.1,451.5 472.2,442.5 485.7,432.5" fill="none" stroke="#d0d0d0" stroke-width="0.85"/>
<polyline points="399.4,497.1 431,488 444.8,485 458.1,454.5 472.2,445 485.7,435" fill="none" stroke="#d0d0d0" stroke-width="0.85"/>
<path d="M399.4 400.2V497.1H513.8" fill="none" stroke="#000" stroke-width="1.7"/>
<rect x="397.5" y="495.2" width="3.8" height="3.8"/>
<rect x="429" y="482.8" width="4" height="5.9"/>
<rect x="442.8" y="472.9" width="4" height="3.8"/>
<rect x="442.8" y="479" width="4" height="6.6"/>
<rect x="456.1" y="436.3" width="4" height="6"/>
<rect x="456.1" y="445.1" width="4" height="3.8"/>
<rect x="456.1" y="451.1" width="4" height="4.6"/>
<rect x="470.2" y="422.4" width="4" height="3.8"/>
<rect x="470.2" y="435.4" width="4" height="10.6"/>
<rect x="483.7" y="420.2" width="4" height="4.8"/>
<rect x="483.7" y="429.6" width="4" height="6.5"/>
<rect x="497.3" y="416.4" width="4.4" height="1.9"/>
<text class="t" x="399.1" y="509.7" lengthAdjust="spacingAndGlyphs" textLength="4.55">0</text>
<text class="t" x="422.48" y="509.7" lengthAdjust="spacingAndGlyphs" textLength="4.55">5</text>
<text class="t" x="445.36" y="509.7" lengthAdjust="spacingAndGlyphs" textLength="9.11">10</text>
<text class="t" x="468.24" y="509.7" lengthAdjust="spacingAndGlyphs" textLength="9.11">15</text>
<text class="t" x="491.12" y="509.7" lengthAdjust="spacingAndGlyphs" textLength="9.11">20</text>
<text class="t" x="514" y="509.7" lengthAdjust="spacingAndGlyphs" textLength="9.11">25</text>
<text class="t" x="390" y="406.25" lengthAdjust="spacingAndGlyphs" textLength="13.66">600</text>
<text class="t" x="390" y="438.85" lengthAdjust="spacingAndGlyphs" textLength="13.66">400</text>
<text class="t" x="390" y="470.25" lengthAdjust="spacingAndGlyphs" textLength="13.66">200</text>
<text class="t" x="393.5" y="502.05" lengthAdjust="spacingAndGlyphs" textLength="4.55">0</text>
<text class="h" x="466.3" y="407.5" lengthAdjust="spacingAndGlyphs" textLength="89.7">CD1dNIH/Gal-ova</text>
<rect x="420.85" y="408.6" width="90.9" height="0.9" fill="#444"/>
<text class="n" x="465.8" y="421.37" lengthAdjust="spacingAndGlyphs" textLength="24.8">(n=5)</text>
</g>
<g>
<polyline points="98.6,660.3 130.3,650 144,637.5 158,626.5 171.5,616.5 185.3,595.5 194.4,586.7 208.1,578" fill="none" stroke="#d0d0d0" stroke-width="0.85"/>
<polyline points="98.6,660.3 130.3,651 144,640 158,629 171.5,626 185.3,612.5 194.4,600.2 208.1,585.8" fill="none" stroke="#d0d0d0" stroke-width="0.85"/>
<polyline points="98.6,660.3 130.3,652 144,643 158,633 171.5,628.5 185.3,615.5 194.4,609.7 208.1,593.8" fill="none" stroke="#d0d0d0" stroke-width="0.85"/>
<polyline points="98.6,660.3 130.3,653 144,646 158,636 171.5,634.5 185.3,618 194.4,620.5 208.1,601.7" fill="none" stroke="#d0d0d0" stroke-width="0.85"/>
<polyline points="98.6,660.3 130.3,654 144,646.5 158,639 171.5,638.5 185.3,625 194.4,623 208.1,601.7" fill="none" stroke="#d0d0d0" stroke-width="0.85"/>
<polyline points="98.6,660.3 130.3,660.3 144,651.2 158,646.8 171.5,643 185.3,634.5 194.4,624.5 208.1,601.7" fill="none" stroke="#d0d0d0" stroke-width="0.85"/>
<path d="M98.6 562.7V660.3H213.2" fill="none" stroke="#000" stroke-width="1.7"/>
<rect x="96.7" y="658.4" width="3.8" height="3.8"/>
<rect x="128.55" y="649.4" width="3.5" height="5.2"/>
<rect x="128.55" y="657.85" width="3.5" height="3.7"/>
<rect x="142.25" y="637" width="3.5" height="10.5"/>
<rect x="142.25" y="649.3" width="3.5" height="3.7"/>
<rect x="156.25" y="626" width="3.5" height="16.7"/>
<rect x="156.25" y="644.95" width="3.5" height="3.7"/>
<rect x="169.75" y="614.7" width="3.5" height="3.7"/>
<rect x="169.75" y="625.2" width="3.5" height="4.8"/>
<rect x="169.75" y="633.3" width="3.5" height="10.8"/>
<rect x="183.55" y="593.6" width="3.5" height="3.7"/>
<rect x="183.55" y="611.3" width="3.5" height="7.9"/>
<rect x="183.55" y="623.8" width="3.5" height="6.2"/>
<rect x="183.55" y="632.6" width="3.5" height="3.7"/>
<rect x="192.65" y="584.8" width="3.5" height="3.9"/>
<rect x="192.65" y="598.3" width="3.5" height="3.8"/>
<rect x="192.65" y="607.3" width="3.5" height="4.8"/>
<rect x="192.65" y="619.4" width="3.5" height="5.9"/>
<rect x="206.35" y="576.1" width="3.5" height="3.7"/>
<rect x="206.35" y="584" width="3.5" height="3.7"/>
<rect x="206.35" y="591.9" width="3.5" height="3.8"/>
<rect x="206.35" y="599.6" width="3.5" height="4.1"/>
<text class="t" x="98.3" y="672.9" lengthAdjust="spacingAndGlyphs" textLength="4.55">0</text>
<text class="t" x="121.72" y="672.9" lengthAdjust="spacingAndGlyphs" textLength="4.55">5</text>
<text class="t" x="144.64" y="672.9" lengthAdjust="spacingAndGlyphs" textLength="9.11">10</text>
<text class="t" x="167.56" y="672.9" lengthAdjust="spacingAndGlyphs" textLength="9.11">15</text>
<text class="t" x="190.48" y="672.9" lengthAdjust="spacingAndGlyphs" textLength="9.11">20</text>
<text class="t" x="213.4" y="672.9" lengthAdjust="spacingAndGlyphs" textLength="9.11">25</text>
<text class="t" x="88" y="568.15" lengthAdjust="spacingAndGlyphs" textLength="13.66">600</text>
<text class="t" x="88" y="599.95" lengthAdjust="spacingAndGlyphs" textLength="13.66">400</text>
<text class="t" x="88" y="631.55" lengthAdjust="spacingAndGlyphs" textLength="13.66">200</text>
<text class="t" x="91.5" y="664.35" lengthAdjust="spacingAndGlyphs" textLength="4.55">0</text>
<text class="h" x="158.3" y="556.2" lengthAdjust="spacingAndGlyphs" textLength="89.8">CD1dNIH/Gal-ova</text>
<rect x="112.8" y="557.3" width="91" height="0.9" fill="#444"/>
<text class="h" x="160" y="572.3" lengthAdjust="spacingAndGlyphs" textLength="43.8">(CD8KO)</text>
<rect x="137.5" y="573.8" width="45" height="0.9" fill="#444"/>
<text class="n" x="155.8" y="588.77" lengthAdjust="spacingAndGlyphs" textLength="24.8">(n=6)</text>
</g>
<g>
<polyline points="249.5,660.5 280.6,651 294.5,645.5 308.1,640.5 321.5,625.9 334.7,614.8 344,601 357.6,593.9" fill="none" stroke="#d0d0d0" stroke-width="0.85"/>
<polyline points="249.5,660.5 280.6,652.5 294.5,647 308.1,642 321.5,632.3 334.7,621 344,604.5 357.6,600" fill="none" stroke="#d0d0d0" stroke-width="0.85"/>
<polyline points="249.5,660.5 280.6,653.5 294.5,648.5 308.1,643.5 321.5,638 334.7,633.4 344,620.5 357.6,602" fill="none" stroke="#d0d0d0" stroke-width="0.85"/>
<polyline points="249.5,660.5 280.6,654 294.5,650 308.1,645 321.5,640 334.7,633.4 344,623 357.6,615" fill="none" stroke="#d0d0d0" stroke-width="0.85"/>
<polyline points="249.5,660.5 280.6,660.5 294.5,660.5 308.1,650.5 321.5,646.7 334.7,641.5 344,630 357.6,615" fill="none" stroke="#d0d0d0" stroke-width="0.85"/>
<polyline points="249.5,660.5 280.6,660.5 294.5,651 308.1,644.5 321.5,639 334.7,633.4 344,624.5 357.6,602" fill="none" stroke="#d0d0d0" stroke-width="0.85"/>
<path d="M249.5 565.2V660.5H362.7" fill="none" stroke="#000" stroke-width="1.7"/>
<rect x="247.6" y="658.6" width="3.8" height="3.8"/>
<rect x="278.85" y="649.8" width="3.5" height="5.2"/>
<rect x="278.85" y="658.55" width="3.5" height="3.7"/>
<rect x="292.75" y="644.8" width="3.5" height="6.7"/>
<rect x="292.75" y="658.55" width="3.5" height="3.7"/>
<rect x="306.35" y="639.2" width="3.5" height="6.8"/>
<rect x="306.35" y="648.6" width="3.5" height="3.7"/>
<rect x="319.75" y="624.05" width="3.5" height="3.7"/>
<rect x="319.75" y="630.45" width="3.5" height="3.7"/>
<rect x="319.75" y="636.7" width="3.5" height="4.5"/>
<rect x="319.75" y="644.85" width="3.5" height="3.7"/>
<rect x="332.95" y="612.95" width="3.5" height="3.7"/>
<rect x="332.95" y="619.1" width="3.5" height="3.7"/>
<rect x="332.95" y="631.6" width="3.5" height="3.7"/>
<rect x="332.95" y="639.65" width="3.5" height="3.7"/>
<rect x="342.25" y="600.1" width="3.5" height="5.9"/>
<rect x="342.25" y="619.6" width="3.5" height="6.1"/>
<rect x="342.25" y="628.1" width="3.5" height="3.7"/>
<rect x="355.85" y="592.05" width="3.5" height="3.7"/>
<rect x="355.85" y="598.8" width="3.5" height="4.5"/>
<rect x="355.85" y="613.15" width="3.5" height="3.7"/>
<text class="t" x="249.2" y="673.1" lengthAdjust="spacingAndGlyphs" textLength="4.55">0</text>
<text class="t" x="272.34" y="673.1" lengthAdjust="spacingAndGlyphs" textLength="4.55">5</text>
<text class="t" x="294.98" y="673.1" lengthAdjust="spacingAndGlyphs" textLength="9.11">10</text>
<text class="t" x="317.62" y="673.1" lengthAdjust="spacingAndGlyphs" textLength="9.11">15</text>
<text class="t" x="340.26" y="673.1" lengthAdjust="spacingAndGlyphs" textLength="9.11">20</text>
<text class="t" x="362.9" y="673.1" lengthAdjust="spacingAndGlyphs" textLength="9.11">25</text>
<text class="t" x="239.5" y="569.75" lengthAdjust="spacingAndGlyphs" textLength="13.66">600</text>
<text class="t" x="239.5" y="601.45" lengthAdjust="spacingAndGlyphs" textLength="13.66">400</text>
<text class="t" x="239.5" y="632.85" lengthAdjust="spacingAndGlyphs" textLength="13.66">200</text>
<text class="t" x="241.5" y="665.05" lengthAdjust="spacingAndGlyphs" textLength="4.55">0</text>
<text class="h" x="302" y="556.5" lengthAdjust="spacingAndGlyphs" textLength="89.9">CD1dNIH/Gal-ova</text>
<rect x="256.45" y="558.1" width="91.1" height="0.9" fill="#444"/>
<text class="h" x="303.7" y="572.3" lengthAdjust="spacingAndGlyphs" textLength="44.3">(CD4KO)</text>
<rect x="280.95" y="574.3" width="45.5" height="0.9" fill="#444"/>
<text class="n" x="303.7" y="588.42" lengthAdjust="spacingAndGlyphs" textLength="26.5">(n=6)</text>
</g>
</svg>
</body></html>
